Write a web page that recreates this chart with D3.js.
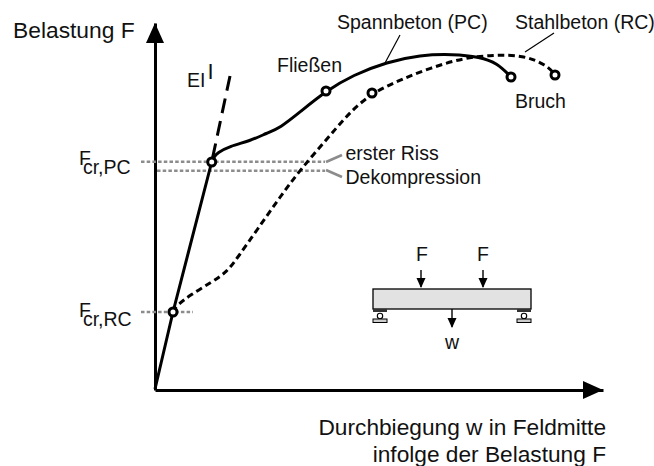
<!DOCTYPE html>
<html><head><meta charset="utf-8">
<script src="https://cdn.jsdelivr.net/npm/d3@7/dist/d3.min.js"></script>
<style>html,body{margin:0;padding:0;background:#fff}text{font-family:"Liberation Sans",Arial,sans-serif;fill:#111}</style>
</head><body><svg id="c" width="654" height="466"></svg>
<script>
// Values in chart units: w (deflection) and F (load)
const pcStiffness = [[0,1],[18,78],[56.7,228]];
const pcCurve = [[56.7,228],[59,233],[62,237],[75,244],[95,249],[112,257],[125,262],[145,278],[171,299],[198,315],[232,328],[265,335],[298,336],[325,333],[342,327],[356,313]];
const rcCurve = [[18,78],[20,83],[35,95],[57,108],[72,118],[83,133],[102,160],[125,193],[145,220],[178,258],[195,278],[217,297],[245,310],[275,322],[308,332],[338,335],[368,335],[392,325],[400,315]];
const eiLine = [[75,314],[56.7,228]];
const markers = [[18,78],[56.7,228],[171,299],[217,297],[356,313],[400,315]];
const dottedLevels = [
  {F:228.3,from:-14,to:170},
  {F:219.3,from:2,to:170},
  {F:78,from:-14,to:38}
];
const grayLeaders = [[[171,228],[187,235]],[[171,220],[187,213]]];
const blackLeaders = [[[245,355],[230,327]],[[399,357],[370,338]]];
const beamBox = {x0:218,x1:376,F0:81,F1:101};
const forces = [266,328];
const supports = [225,369];
const labels = [
  {t:"Belastung F",w:-142,F:352,a:"start",s:22.8},
  {t:"Fließen",w:122,F:318,a:"start",s:19.5},
  {t:"Spannbeton (PC)",w:182,F:361,a:"start",s:19.5},
  {t:"Stahlbeton (RC)",w:360,F:361,a:"start",s:19.5},
  {t:"Bruch",w:360,F:282,a:"start",s:19.5},
  {t:"erster Riss",w:190.5,F:230,a:"start",s:19.5},
  {t:"Dekompression",w:190.5,F:206,a:"start",s:19.5},
  {t:"Durchbiegung w in Feldmitte",w:451,F:-45,a:"end",s:22.7},
  {t:"infolge der Belastung F",w:451,F:-72,a:"end",s:22.7},
  {t:"F",w:267,F:129,a:"middle",s:19.5},
  {t:"F",w:328,F:129,a:"middle",s:19.5},
  {t:"w",w:297,F:41,a:"middle",s:19.5}
];

const x = d3.scaleLinear().domain([0,448]).range([155,603]);
const y = d3.scaleLinear().domain([0,367]).range([390,23]);
const svg = d3.select("#c");
const line = d3.line().x(d=>x(d[0])).y(d=>y(d[1]));
const smooth = d3.line().x(d=>x(d[0])).y(d=>y(d[1])).curve(d3.curveBasis);

// axes
const ax = svg.append("g").attr("transform",`translate(0,${y(0)})`).call(d3.axisBottom(x).tickValues([]).tickSizeOuter(0));
ax.select("path").attr("stroke","#000").attr("stroke-width",3);
const ay = svg.append("g").attr("transform",`translate(${x(0)},0)`).call(d3.axisLeft(y).tickValues([]).tickSizeOuter(0));
ay.select("path").attr("stroke","#000").attr("stroke-width",3);
svg.append("path").attr("fill","#000").attr("d",d3.line()([[x(0),y(367)],[x(0)-9,y(367)+20],[x(0)+9,y(367)+20]])+"Z");
svg.append("path").attr("fill","#000").attr("d",d3.line()([[x(448),y(0)],[x(448)-20,y(0)-9],[x(448)-20,y(0)+9]])+"Z");

// dotted levels
svg.selectAll(".lvl").data(dottedLevels).join("line").attr("class","lvl")
 .attr("x1",d=>x(d.from)).attr("x2",d=>x(d.to)).attr("y1",d=>y(d.F)).attr("y2",d=>y(d.F))
 .attr("stroke","#8c8c8c").attr("stroke-width",2.6).attr("stroke-dasharray","3.5 2.2");
svg.selectAll(".gl").data(grayLeaders).join("path").attr("class","gl").attr("d",line)
 .attr("stroke","#8c8c8c").attr("stroke-width",2.6).attr("fill","none");
svg.selectAll(".bl").data(blackLeaders).join("path").attr("class","bl").attr("d",line)
 .attr("stroke","#000").attr("stroke-width",1.2).attr("fill","none");

// curves
svg.append("path").attr("d",line(eiLine)).attr("fill","none").attr("stroke","#000").attr("stroke-width",3).attr("stroke-dasharray","15 8");
svg.append("path").attr("d",line(pcStiffness)).attr("fill","none").attr("stroke","#000").attr("stroke-width",3);
svg.append("path").attr("d",smooth(pcCurve)).attr("fill","none").attr("stroke","#000").attr("stroke-width",3);
svg.append("path").attr("d",smooth(rcCurve)).attr("fill","none").attr("stroke","#000").attr("stroke-width",3).attr("stroke-dasharray","6.5 4");
svg.selectAll(".m").data(markers).join("circle").attr("class","m")
 .attr("cx",d=>x(d[0])).attr("cy",d=>y(d[1])).attr("r",4).attr("fill","#fff").attr("stroke","#000").attr("stroke-width",3);

// beam
svg.append("rect").attr("x",x(beamBox.x0)).attr("width",x(beamBox.x1)-x(beamBox.x0))
 .attr("y",y(beamBox.F1)).attr("height",y(beamBox.F0)-y(beamBox.F1))
 .attr("fill","#e2e2e2").attr("stroke","#000").attr("stroke-width",1.3);
const arrow=(w,F0,F1)=>{
  svg.append("line").attr("x1",x(w)).attr("x2",x(w)).attr("y1",y(F0)).attr("y2",y(F1)-1).attr("stroke","#000").attr("stroke-width",1.4);
  svg.append("path").attr("fill","#000").attr("d",d3.line()([[x(w),y(F1)],[x(w)-4.5,y(F1)-10],[x(w)+4.5,y(F1)-10]])+"Z");
};
forces.forEach(w=>arrow(w,120,102));
arrow(297,81,62);
supports.forEach(w=>{
  svg.append("rect").attr("x",x(w-7)).attr("y",y(81)).attr("width",x(w+7)-x(w-7)).attr("height",y(78)-y(81)).attr("fill","#333");
  svg.append("circle").attr("cx",x(w)).attr("cy",y(74)).attr("r",2.7).attr("fill","#fff").attr("stroke","#000").attr("stroke-width",1.1);
  svg.append("rect").attr("x",x(w-7)).attr("y",y(71)).attr("width",x(w+7)-x(w-7)).attr("height",y(67.5)-y(71)).attr("fill","#ccc").attr("stroke","#000").attr("stroke-width",1);
});

// text
svg.selectAll(".lab").data(labels).join("text").attr("class","lab")
 .attr("x",d=>x(d.w)).attr("y",d=>y(d.F)).attr("text-anchor",d=>d.a).attr("font-size",d=>d.s).text(d=>d.t);
const sub=(w,F,s)=>{
 const t=svg.append("text").attr("x",x(w)).attr("y",y(F)).attr("font-size",19.5);
 t.append("tspan").text("F");
 t.append("tspan").attr("dx",-8).attr("dy",8.5).text(s);};
sub(-76,225,"cr,PC"); sub(-76,73,"cr,RC");
const ei=svg.append("text").attr("x",x(32)).attr("y",y(303)).attr("font-size",19.5);
ei.append("tspan").text("EI");
ei.append("tspan").attr("dx",2).attr("dy",-8).attr("font-size",22).text("I");
</script></body></html>
